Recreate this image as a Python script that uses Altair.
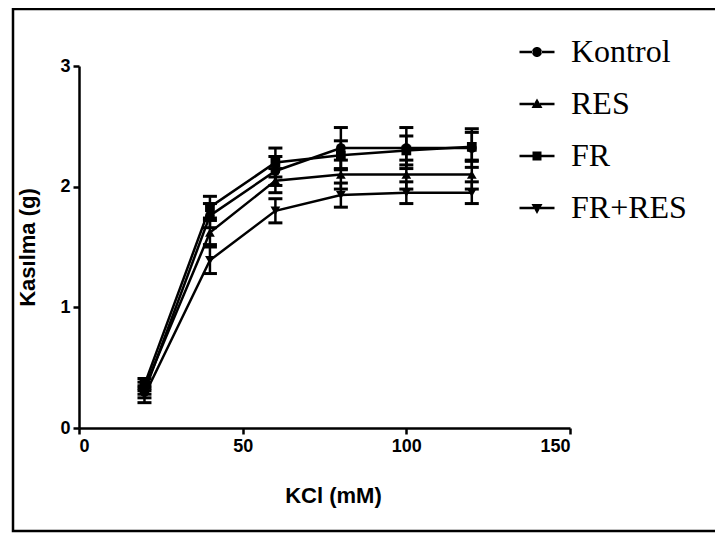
import altair as alt
import pandas as pd

# ---- data ----
kcl = [20, 40, 60, 80, 100, 120]
series = ["Kontrol", "RES", "FR", "FR+RES"]
kontrol = [0.30, 1.76, 2.13, 2.32, 2.32, 2.32]
res = [0.33, 1.62, 2.05, 2.10, 2.10, 2.10]
fr = [0.36, 1.83, 2.20, 2.26, 2.30, 2.33]
fr_res = [0.27, 1.39, 1.80, 1.93, 1.95, 1.95]
kontrol_err = [0.05, 0.10, 0.12, 0.17, 0.17, 0.16]
res_err = [0.05, 0.10, 0.10, 0.12, 0.12, 0.12]
fr_err = [0.05, 0.09, 0.12, 0.12, 0.12, 0.12]
fr_res_err = [0.06, 0.11, 0.10, 0.10, 0.09, 0.09]

x_ticks = [0, 50, 100, 150]
y_ticks = [0, 1, 2, 3]

rows = []
for name, vals, errs in zip(series, [kontrol, res, fr, fr_res],
                            [kontrol_err, res_err, fr_err, fr_res_err]):
    for xv, v, e in zip(kcl, vals, errs):
        rows.append({"KCl": xv, "value": v, "lo": v - e, "hi": v + e, "grup": name})
df = pd.DataFrame(rows)

axis_style = dict(labelFont="Liberation Sans", labelFontWeight="bold", labelFontSize=18,
                  labelColor="black", labelPadding=3, titleFont="Liberation Sans",
                  titleFontWeight="bold", titleFontSize=22, titleColor="black",
                  format="d", grid=False, domainColor="black", domainWidth=2.5,
                  tickColor="black", tickWidth=2.5, tickSize=6)

X = alt.X("KCl:Q", scale=alt.Scale(domain=[0, 150], nice=False, zero=False),
          axis=alt.Axis(values=x_ticks, title="KCl (mM)", titleX=254, titleY=67,
                        titleBaseline="middle", **axis_style))
Y = alt.Y("value:Q", scale=alt.Scale(domain=[0, 3], nice=False),
          axis=alt.Axis(values=y_ticks, title="Kasılma (g)", titleX=-52, titleY=181,
                        titleBaseline="middle", titleAngle=270, **axis_style))

base = alt.Chart(df)

lines = base.mark_line(color="black", strokeWidth=2.5).encode(
    x=X, y=Y, detail="grup:N")

bars = base.mark_rule(color="black", strokeWidth=2.5).encode(
    x="KCl:Q", y="lo:Q", y2="hi:Q")
cap_hi = base.mark_rule(color="black", strokeWidth=3, xOffset=-7, x2Offset=7).encode(
    x="KCl:Q", x2="KCl:Q", y="hi:Q")
cap_lo = base.mark_rule(color="black", strokeWidth=3, xOffset=-7, x2Offset=7).encode(
    x="KCl:Q", x2="KCl:Q", y="lo:Q")

points = base.mark_point(filled=True, color="black", size=95, opacity=1).encode(
    x="KCl:Q", y="value:Q",
    shape=alt.Shape("grup:N", scale=alt.Scale(
        domain=series, range=["circle", "triangle-up", "square", "triangle-down"]),
        legend=None))

leg_paths = [
    "M-3.5,-0.25H-0.9V0.25H-3.5Z M0.9,-0.25H3.5V0.25H0.9Z M-1,0A1,1,0,1,0,1,0A1,1,0,1,0,-1,0Z",
    "M-3.5,-0.25H-0.6V0.25H-3.5Z M0.6,-0.25H3.5V0.25H0.6Z M0,-1.1L1.1,0.8H-1.1Z",
    "M-3.5,-0.25H-0.8V0.25H-3.5Z M0.8,-0.25H3.5V0.25H0.8Z M-0.9,-0.9H0.9V0.9H-0.9Z",
    "M-3.5,-0.25H-0.6V0.25H-3.5Z M0.6,-0.25H3.5V0.25H0.6Z M-1.1,-0.8H1.1L0,1.2Z",
]
legend_layer = base.mark_point(filled=True, color="black", size=100, opacity=0).encode(
    x="KCl:Q", y="value:Q",
    shape=alt.Shape("grup:N", scale=alt.Scale(domain=series, range=leg_paths),
                    legend=alt.Legend(title=None, orient="none", legendX=442, legendY=-30,
                                      labelFont="Liberation Serif", labelFontSize=32,
                                      labelColor="black", labelOffset=18,
                                      rowPadding=20, symbolSize=100,
                                      symbolFillColor="black", symbolStrokeWidth=0,
                                      symbolOpacity=1, padding=0, labelLimit=300)))

frame = alt.Chart(pd.DataFrame({"f": [0]})).mark_rect(
    filled=False, stroke="black", strokeWidth=2.5).encode(
    x=alt.value(-66), x2=alt.value(640), y=alt.value(-57), y2=alt.value(465))

chart = alt.layer(frame, lines, bars, cap_hi, cap_lo, points, legend_layer).resolve_scale(
    shape="independent"
).properties(
    width=491, height=362,
    autosize=alt.AutoSizeParams(type="none"),
    padding={"left": 71, "top": 58, "right": 145, "bottom": 106},
).configure_view(stroke=None)

chart.save("out.html", embed_options={"renderer": "svg", "actions": False})
